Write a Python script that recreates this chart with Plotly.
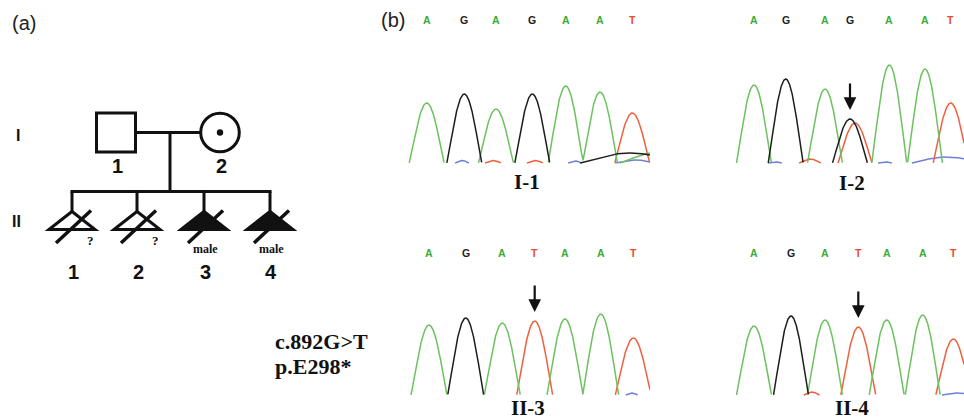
import numpy as np
import plotly.graph_objects as go

W, H = 964, 420

# ------------------------------------------------------------------ data
# Pedigree (panel a)
gen_labels = ["I", "II"]
ped_label = ["1", "2", "1", "2", "3", "4"]
ped_gen = [1, 1, 2, 2, 2, 2]
ped_kind = ["square", "circle", "triangle", "triangle", "triangle", "triangle"]
ped_affected = [False, False, False, False, True, True]
ped_carrier = [False, True, False, False, False, False]
ped_deceased = [False, False, True, True, True, True]
ped_note = ["", "", "?", "?", "male", "male"]

# Sanger chromatograms (panel b): called bases, peak positions (scan units), peak heights
bases_I1 = list("AGAGAAT")
pos_I1 = [21.7, 59.3, 91.0, 127.3, 160.7, 195.0, 227.3]
height_I1 = [60, 69, 54, 69, 77, 71, 50]
minor_I1_base = ["C", "T", "T", "C", "G", "A", "C"]
minor_I1_pos = [57, 88, 130, 170, 225, 255, 230]
minor_I1_height = [2.5, 2.5, 2.5, 2.0, 10, 11, 3]
minor_I1_width = [14, 16, 16, 14, 100, 80, 40]

bases_I2 = list("AGAGAAT")
pos_I2 = [24.0, 55.7, 95.0, 120.0, 159.3, 195.0, 220.7]
height_I2 = [78, 84, 74, 44, 98, 94, 60]
minor_I2_base = ["T", "C", "T", "C", "C"]
minor_I2_pos = [125.0, 45, 80, 155, 216.7]
minor_I2_height = [40, 1.2, 4, 1.2, 6]
minor_I2_width = [34, 14, 22, 14, 70]

bases_II3 = list("AGATAAT")
pos_II3 = [24.0, 60.7, 97.3, 129.7, 160.0, 195.7, 228.3]
height_II3 = [70, 77, 72, 74, 76, 81, 57]
minor_II3_base = ["C"]
minor_II3_pos = [226.7]
minor_II3_height = [2]
minor_II3_width = [12]

bases_II4 = list("AGATAAT")
pos_II4 = [24.0, 61.0, 95.0, 128.3, 156.7, 192.7, 223.3]
height_II4 = [69, 79, 75, 68, 75, 80, 56]
minor_II4_base = ["T", "C"]
minor_II4_pos = [81.7, 226.7]
minor_II4_height = [3, 2]
minor_II4_width = [16, 30]

variant_text = ["c.892G>T", "p.E298*"]

# ------------------------------------------------------------------ styling / layout
CH_COL = {"A": "#6cc25e", "G": "#1e1e1e", "T": "#f0603e", "C": "#6f80d8"}
LET_COL = {"A": "#3aaa3a", "G": "#1e1e1e", "T": "#ee4a2a", "C": "#4455cc"}
SANS = "Liberation Sans, Arial, sans-serif"
SERIF = "Liberation Serif, Times New Roman, serif"

panels = [
    dict(name="I-1", L=405, R=650, base=163, let_y=20, lab_y=181.7, arrow=None,
         bases=bases_I1, pos=pos_I1, h=height_I1,
         mb=minor_I1_base, mp=minor_I1_pos, mh=minor_I1_height, mw=minor_I1_width, w=35),
    dict(name="I-2", L=730, R=964, base=163, let_y=20, lab_y=182.7, arrow=3,
         bases=bases_I2, pos=pos_I2, h=height_I2,
         mb=minor_I2_base, mp=minor_I2_pos, mh=minor_I2_height, mw=minor_I2_width, w=35),
    dict(name="II-3", L=405, R=650, base=395, let_y=253.3, lab_y=407.5, arrow=3,
         bases=bases_II3, pos=pos_II3, h=height_II3,
         mb=minor_II3_base, mp=minor_II3_pos, mh=minor_II3_height, mw=minor_II3_width, w=36),
    dict(name="II-4", L=730, R=964, base=395, let_y=253.3, lab_y=407.5, arrow=3,
         bases=bases_II4, pos=pos_II4, h=height_II4,
         mb=minor_II4_base, mp=minor_II4_pos, mh=minor_II4_height, mw=minor_II4_width, w=35),
]
LABEL_X = [121.7, 121.7, 123.3, 121.7]


def hump(x, c, h, w, p=1.1):
    u = (x - c) / w
    y = np.where(np.abs(u) < 0.5, np.cos(np.pi * u).clip(0) ** p, 0.0)
    return h * y


fig = go.Figure()
layout = dict(
    width=W, height=H, margin=dict(l=0, r=0, t=0, b=0, pad=0),
    paper_bgcolor="white", plot_bgcolor="rgba(0,0,0,0)", showlegend=False,
    xaxis=dict(domain=[0, 1], range=[0, W], visible=False, fixedrange=True),
    yaxis=dict(domain=[0, 1], range=[H, 0], visible=False, fixedrange=True),
)
annotations = []
shapes = []

# ------------------------------------------------------------------ chromatograms
for i, p in enumerate(panels):
    k = i + 2
    xa, ya = f"xaxis{k}", f"yaxis{k}"
    xr, yr = f"x{k}", f"y{k}"
    span = p["R"] - p["L"]
    layout[xa] = dict(domain=[p["L"] / W, p["R"] / W], range=[0, span], visible=False,
                      fixedrange=True, anchor=yr)
    layout[ya] = dict(domain=[1 - (p["base"] + 3) / H, 1 - (p["base"] - 100) / H],
                      range=[-3, 100], visible=False, fixedrange=True, anchor=xr)
    xs = np.linspace(0, span, 1500)
    sig = {c: np.zeros_like(xs) for c in "ACGT"}
    for b, c, h in zip(p["bases"], p["pos"], p["h"]):
        sig[b] += hump(xs, c, h, p["w"])
    for b, c, h, w in zip(p["mb"], p["mp"], p["mh"], p["mw"]):
        sig[b] += hump(xs, c, h, w)
    for ch in ["C", "T", "A", "G"]:
        y = sig[ch].copy()
        y[y <= 0.02] = np.nan
        fig.add_trace(go.Scatter(x=xs, y=y, mode="lines", xaxis=xr, yaxis=yr,
                                 line=dict(color=CH_COL[ch], width=1.5),
                                 hoverinfo="skip", connectgaps=False))
    # base calls
    for b, c in zip(p["bases"], p["pos"]):
        annotations.append(dict(x=c, y=1 - p["let_y"] / H, xref=xr, yref="paper",
                                text=f"<b>{b}</b>", showarrow=False,
                                font=dict(family=SANS, size=10.5, color=LET_COL[b]),
                                xanchor="center", yanchor="middle"))
    # label
    annotations.append(dict(x=LABEL_X[i], y=1 - p["lab_y"] / H, xref=xr, yref="paper",
                            text=f"<b>{p['name']}</b>", showarrow=False,
                            font=dict(family=SERIF, size=21, color="#111"),
                            xanchor="center", yanchor="middle"))
    if p["arrow"] is not None:
        j = p["arrow"]
        annotations.append(dict(x=p["pos"][j], y=p["h"][j] + 9, xref=xr, yref=yr,
                                text="", showarrow=True, ax=0, ay=-28,
                                arrowhead=2, arrowsize=1.15, arrowwidth=2.2,
                                arrowcolor="#111"))

# variant description
annotations.append(dict(x=273, y=341.5, xref="x", yref="y", text=f"<b>{variant_text[0]}</b>",
                        showarrow=False, xanchor="left", yanchor="middle",
                        font=dict(family=SERIF, size=22, color="#111")))
annotations.append(dict(x=273, y=366.5, xref="x", yref="y", text=f"<b>{variant_text[1]}</b>",
                        showarrow=False, xanchor="left", yanchor="middle",
                        font=dict(family=SERIF, size=22, color="#111")))

# panel letters
annotations.append(dict(x=23.5, y=23, xref="x", yref="y", text="(a)", showarrow=False,
                        font=dict(family=SANS, size=20, color="#222")))
annotations.append(dict(x=392.5, y=20, xref="x", yref="y", text="(b)", showarrow=False,
                        font=dict(family=SANS, size=20, color="#222")))

# ------------------------------------------------------------------ pedigree
GEN_Y = {1: 132.5, 2: 220.5}
GEN_LAB_X = [18.3, 16.5]
IND_X = {0: 116, 1: 220, 2: 72, 3: 137, 4: 204, 5: 270}
LW = 3
BLACK = "#111"

for g, lab in enumerate(gen_labels):
    annotations.append(dict(x=GEN_LAB_X[g], y=GEN_Y[g + 1] + (2.5 if g == 0 else 1), xref="x", yref="y",
                            text=f"<b>{lab}</b>", showarrow=False,
                            font=dict(family=SANS, size=16, color=BLACK)))

parents = [i for i, g in enumerate(ped_gen) if g == 1]
children = [i for i, g in enumerate(ped_gen) if g == 2]
half = 19.5
rad = 19.3
py = GEN_Y[1]
shapes.append(dict(type="line", x0=IND_X[parents[0]] + half, x1=IND_X[parents[1]] - rad,
                   y0=py, y1=py, line=dict(color=BLACK, width=LW)))
mid = 170
sib_y = 191.5
shapes.append(dict(type="line", x0=mid, x1=mid, y0=py, y1=sib_y, line=dict(color=BLACK, width=LW)))
shapes.append(dict(type="line", x0=IND_X[children[0]] - 1.5, x1=IND_X[children[-1]] + 1.5,
                   y0=sib_y, y1=sib_y, line=dict(color=BLACK, width=LW)))

apex_y, base_y, tri_hw = 211.5, 229.5, 23
for i in range(len(ped_label)):
    cx = IND_X[i]
    if ped_kind[i] == "square":
        shapes.append(dict(type="rect", x0=cx - half, x1=cx + half, y0=py - half, y1=py + half,
                           line=dict(color=BLACK, width=LW),
                           fillcolor=BLACK if ped_affected[i] else "white"))
    elif ped_kind[i] == "circle":
        shapes.append(dict(type="circle", x0=cx - rad, x1=cx + rad, y0=py - rad, y1=py + rad,
                           line=dict(color=BLACK, width=LW),
                           fillcolor=BLACK if ped_affected[i] else "white"))
    else:
        shapes.append(dict(type="line", x0=cx, x1=cx, y0=sib_y, y1=apex_y + 1,
                           line=dict(color=BLACK, width=LW)))
        path = (f"M {cx - tri_hw},{base_y} L {cx},{apex_y} L {cx + tri_hw},{base_y} Z")
        shapes.append(dict(type="path", path=path, line=dict(color=BLACK, width=LW),
                           fillcolor=BLACK if ped_affected[i] else "white"))
    if ped_carrier[i]:
        shapes.append(dict(type="circle", x0=cx - 3.2, x1=cx + 3.2, y0=py - 3.2, y1=py + 3.2,
                           line=dict(color=BLACK, width=0), fillcolor=BLACK))
    if ped_deceased[i]:
        shapes.append(dict(type="line", x0=cx - 16, y0=243, x1=cx + 19, y1=210.5,
                           line=dict(color=BLACK, width=3.5)))
    ly = 165.7 if ped_gen[i] == 1 else 271.7
    annotations.append(dict(x=cx + 1, y=ly, xref="x", yref="y", text=f"<b>{ped_label[i]}</b>",
                            showarrow=False, font=dict(family=SANS, size=20, color=BLACK)))
    if ped_note[i] == "?":
        annotations.append(dict(x=cx + 18.5, y=240, xref="x", yref="y", text="<b>?</b>",
                                showarrow=False, font=dict(family=SERIF, size=13, color=BLACK)))
    elif ped_note[i]:
        annotations.append(dict(x=cx + 1.5, y=249.3, xref="x", yref="y",
                                text=f"<b>{ped_note[i]}</b>", showarrow=False,
                                font=dict(family=SERIF, size=12, color=BLACK)))

layout["annotations"] = annotations
layout["shapes"] = shapes
fig.update_layout(**layout)
fig.write_html("out.html", config={"displayModeBar": False},
               post_script="document.body.style.margin='0px';document.body.style.padding='0px';")
